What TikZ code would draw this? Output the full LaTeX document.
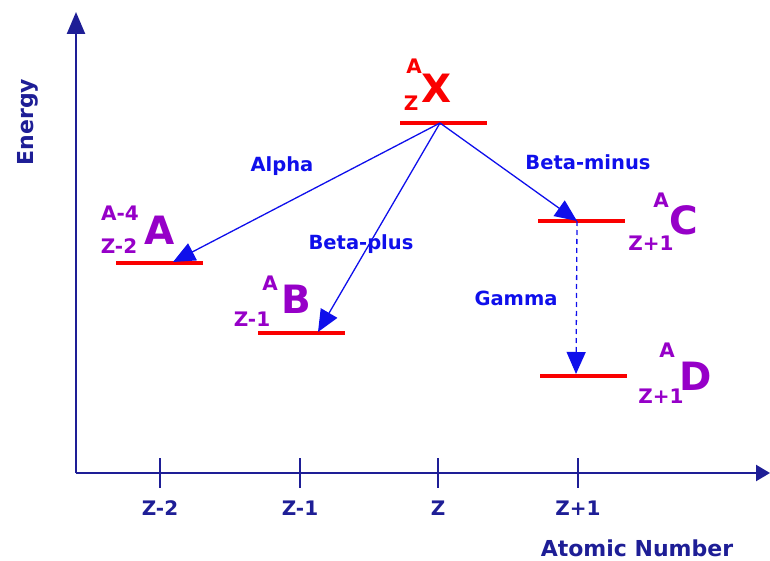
\documentclass[tikz,border=0pt]{standalone}
\usepackage{fontspec}
\setmainfont{DejaVu Sans}
\usetikzlibrary{arrows.meta}
\definecolor{axisblue}{RGB}{30,30,150}
\definecolor{arrblue}{RGB}{15,15,235}
\definecolor{lvlred}{RGB}{250,0,0}
\definecolor{nucpurple}{RGB}{150,0,200}
\tikzset{
  axis/.style={draw=axisblue, line width=2.4pt},
  tick/.style={draw=axisblue, line width=2pt},
  ticklab/.style={text=axisblue, font=\fontsize{20}{20}\selectfont\bfseries},
  axlab/.style={text=axisblue, font=\fontsize{22}{22}\selectfont\bfseries},
  level/.style={draw=lvlred, line width=3.8pt},
  decay/.style={draw=arrblue, line width=1.3pt, -{Triangle[length=22pt,width=19pt]}},
  decaylab/.style={text=arrblue, font=\fontsize{19.5}{20}\selectfont\bfseries},
  small/.style={font=\fontsize{20}{20}\selectfont\bfseries, inner sep=0pt},
  big/.style={font=\fontsize{39}{39}\selectfont\bfseries, inner sep=0pt},
}
\begin{document}
\begin{tikzpicture}[x=1pt,y=-1pt]
\useasboundingbox (0,0) rectangle (770,561);
% axes
\coordinate (O) at (76,473);
\coordinate (Ytop) at (76,12);
\coordinate (Xend) at (770,473);
\draw[axis, -{Triangle[length=22pt,width=18pt]}] (O) -- (Ytop);
\draw[axis, -{Triangle[length=14pt,width=16pt]}] (O) -- (Xend);
% ticks
\foreach \x/\n/\l in {160/t1/Z-2, 300/t2/Z-1, 438/t3/Z, 578/t4/Z+1}{
  \coordinate (\n a) at (\x,458);
  \coordinate (\n b) at (\x,488);
  \draw[tick] (\n a) -- (\n b);
  \node[ticklab] (\n lab) at (\x,508) {\l};
}
\node[axlab] (xlab) at (637,548) {Atomic Number};
\node[axlab, rotate=90] (ylab) at (28,122) {Energy};
% levels
\coordinate (Xl) at (400,123); \coordinate (Xr) at (487,123); \coordinate (Xs) at (440,123);
\coordinate (Al) at (116,263); \coordinate (Ar) at (203,263); \coordinate (At) at (173,262);
\coordinate (Bl) at (258,333); \coordinate (Br) at (345,333); \coordinate (Bt) at (318,332);
\coordinate (Cl) at (538,221); \coordinate (Cr) at (625,221); \coordinate (Ct) at (577,221);
\coordinate (Dl) at (540,376); \coordinate (Dr) at (627,376); \coordinate (Dt) at (576,374);
\draw[level] (Xl) -- (Xr);
\draw[level] (Al) -- (Ar);
\draw[level] (Bl) -- (Br);
\draw[level] (Cl) -- (Cr);
\draw[level] (Dl) -- (Dr);
% decays
\draw[decay] (Xs) -- (At);
\draw[decay] (Xs) -- (Bt);
\draw[decay] (Xs) -- (Ct);
\draw[decay, dashed, dash pattern=on 5pt off 4pt] (Ct) -- (Dt);
\node[decaylab] (alpha) at (282,166) {Alpha};
\node[decaylab] (bplus) at (361,244) {Beta-plus};
\node[decaylab] (bminus) at (588,162) {Beta-minus};
\node[decaylab] (gamma) at (516,298) {Gamma};
% nuclide labels
\node[small, text=lvlred] (XA) at (414,66) {A};
\node[small, text=lvlred] (XZ) at (411,103) {Z};
\node[big, text=lvlred] (XX) at (437,88) {X};
\node[small, text=nucpurple] (AA) at (120,213) {A-4};
\node[small, text=nucpurple] (AZ) at (119,246) {Z-2};
\node[big, text=nucpurple] (AN) at (160,230) {A};
\node[small, text=nucpurple] (BA) at (270,283) {A};
\node[small, text=nucpurple] (BZ) at (252,319) {Z-1};
\node[big, text=nucpurple] (BN) at (296,299) {B};
\node[small, text=nucpurple] (CA) at (661,200) {A};
\node[small, text=nucpurple] (CZ) at (651,243) {Z+1};
\node[big, text=nucpurple] (CN) at (684,220) {C};
\node[small, text=nucpurple] (DA) at (667,350) {A};
\node[small, text=nucpurple] (DZ) at (661,396) {Z+1};
\node[big, text=nucpurple] (DN) at (696,376) {D};
\end{tikzpicture}
\end{document}
